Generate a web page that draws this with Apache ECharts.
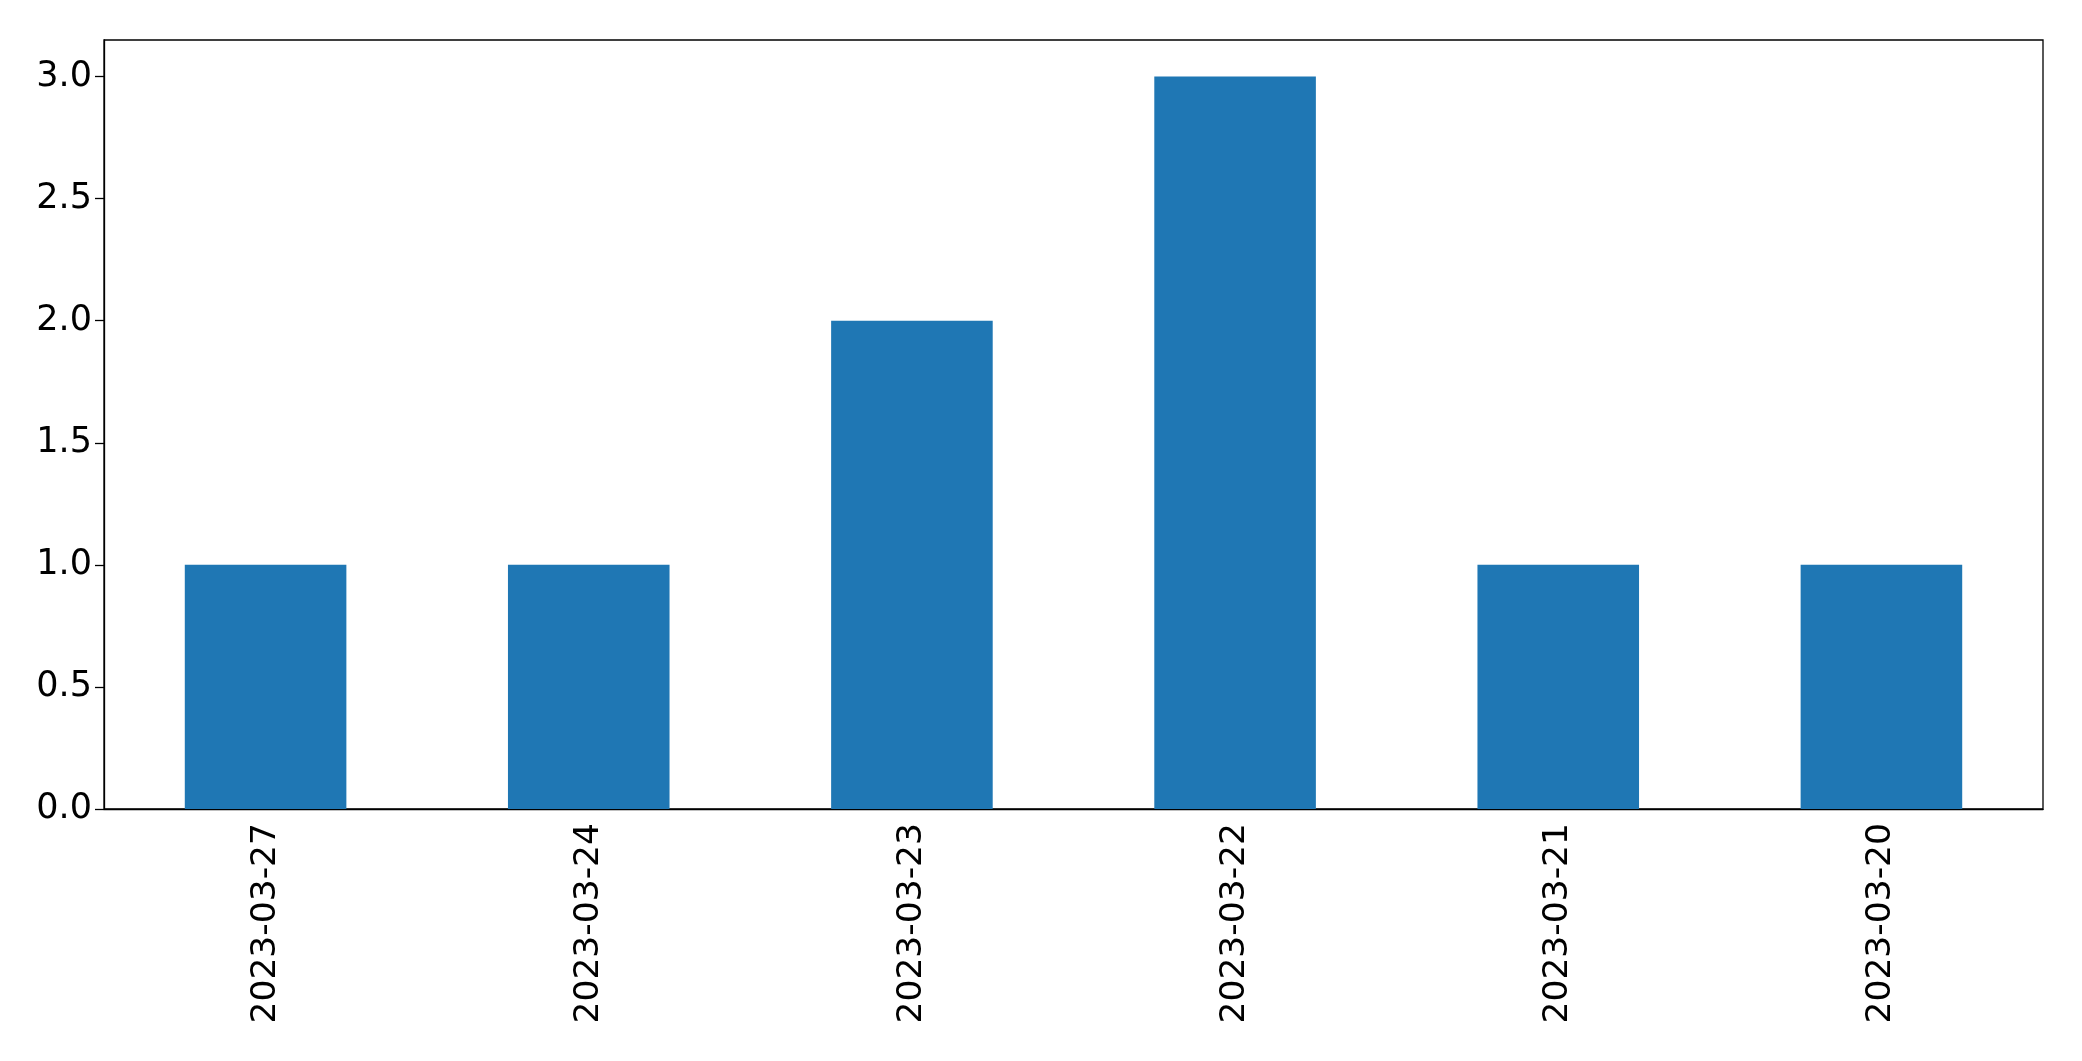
<!DOCTYPE html>
<html>
<head>
<meta charset="utf-8">
<script src="https://cdn.jsdelivr.net/npm/echarts@6/dist/echarts.min.js"></script>
<style>
  html, body { margin: 0; padding: 0; background: #fff; }
  #chart { width: 2082px; height: 1061px; }
</style>
</head>
<body>
<div id="chart"></div>
<script>
// data
var dates = ['2023-03-27', '2023-03-24', '2023-03-23', '2023-03-22', '2023-03-21', '2023-03-20'];
var counts = [1, 1, 2, 3, 1, 1];
var yTicks = [0, 0.5, 1, 1.5, 2, 2.5, 3];

var myChart = echarts.init(document.getElementById('chart'));

var option = {
  animation: false,
  grid: {
    left: 104,
    right: 39,
    top: 40,
    bottom: 252,
    show: true,
    borderColor: '#000',
    borderWidth: 1.3,
    backgroundColor: 'transparent'
  },
  xAxis: {
    type: 'category',
    data: dates,
    boundaryGap: true,
    axisLine: { lineStyle: { color: '#000', width: 1.3 } },
    axisTick: { alignWithLabel: true, length: 9, lineStyle: { color: '#000', width: 1.3 } },
    axisLabel: {
      rotate: 90,
      margin: 14,
      color: '#000',
      fontSize: 34.5,
      fontFamily: 'DejaVu Sans'
    }
  },
  yAxis: {
    type: 'value',
    min: 0,
    max: 3.15,
    interval: 0.5,
    splitLine: { show: false },
    axisLine: { show: true, lineStyle: { color: '#000', width: 1.3 } },
    axisTick: { show: true, length: 9, customValues: yTicks, lineStyle: { color: '#000', width: 1.3 } },
    axisLabel: {
      margin: 12,
      color: '#000',
      fontSize: 35,
      fontFamily: 'DejaVu Sans',
      customValues: yTicks,
      formatter: function (v) { return v.toFixed(1); }
    }
  },
  series: [
    {
      type: 'bar',
      data: counts,
      barWidth: '50%',
      itemStyle: { color: '#1f77b4' }
    }
  ]
};

myChart.setOption(option);
</script>
</body>
</html>
